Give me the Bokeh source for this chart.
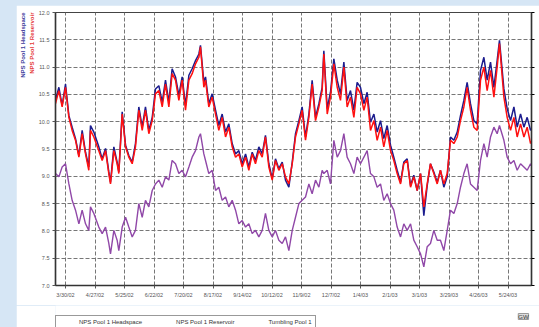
from bokeh.plotting import figure
from bokeh.models import Range1d, LinearAxis, FixedTicker, Legend, LegendItem, Title, Label
from bokeh.layouts import column
from bokeh.embed import file_html
from bokeh.resources import INLINE

# days since 3/30/02
days = [-9.5, -6.3, -3.2, 0.0, 3.2, 6.3, 9.5, 12.7, 15.8, 19.0, 22.1, 23.7, 26.9, 31.6, 34.8, 38.0,
        41.1, 42.7, 45.9, 49.0, 50.6, 53.8, 57.0, 60.1, 63.3, 66.4, 69.6, 72.8, 75.9, 79.1, 82.3, 85.4,
        88.6, 91.8, 94.9, 98.1, 101.2, 104.4, 107.6, 110.7, 113.9, 117.1, 120.2, 123.4, 126.6, 128.1,
        131.3, 132.9, 136.0, 139.2, 142.4, 145.5, 148.7, 151.9, 155.0, 158.2, 161.4, 164.5, 167.7, 170.9,
        174.0, 177.2, 180.3, 183.5, 186.7, 189.8, 193.0, 196.2, 199.3, 202.5, 205.7, 208.8, 212.0, 215.2,
        218.3, 221.5, 224.6, 227.8, 231.0, 234.1, 237.3, 240.5, 243.6, 245.2, 248.4, 251.5, 254.7, 257.9,
        261.0, 264.2, 267.3, 270.5, 273.7, 276.8, 280.0, 283.2, 286.3, 289.5, 292.7, 295.8, 299.0, 302.1,
        305.3, 308.5, 311.6, 314.8, 318.0, 321.1, 324.3, 327.5, 330.6, 333.8, 337.0, 340.1, 343.3, 346.4,
        349.6, 352.8, 355.9, 359.1, 362.3, 365.4, 368.6, 371.8, 374.9, 378.1, 381.2, 384.4, 387.6, 390.7,
        393.9, 397.1, 400.2, 403.4, 406.6, 409.7, 411.9, 416.1, 419.2, 422.4, 425.6, 428.7, 431.9, 435.1,
        438.2, 441.4, 444.5]

headspace = [10.39, 10.63, 10.30, 10.69, 10.11, 9.90, 9.69, 9.38, 9.84, 9.44, 9.17, 9.93, 9.81, 9.54, 9.32, 9.51,
             9.08, 8.89, 9.54, 9.26, 9.08, 10.18, 9.57, 9.38, 9.26, 9.60, 10.27, 9.90, 10.27, 9.84, 10.08, 10.60,
             10.66, 10.36, 10.76, 10.36, 10.97, 10.82, 10.48, 10.82, 10.30, 10.85, 10.97, 11.12, 11.24, 11.40,
             10.72, 10.82, 10.33, 10.51, 10.21, 9.93, 10.14, 9.81, 9.96, 9.60, 9.41, 9.47, 9.23, 9.41,
             9.17, 9.44, 9.29, 9.54, 9.41, 9.75, 9.23, 8.96, 9.32, 9.14, 9.26, 8.93, 8.80, 9.26,
             9.78, 10.02, 10.27, 9.72, 10.14, 10.76, 10.08, 10.33, 10.63, 11.30, 10.24, 10.54, 11.15, 10.76,
             10.51, 11.09, 10.39, 10.57, 10.21, 10.72, 10.63, 10.33, 10.54, 9.99, 10.14, 9.81, 10.02, 9.69,
             9.93, 9.57, 9.35, 9.11, 8.89, 9.26, 9.32, 8.83, 9.02, 8.74, 9.05, 8.28, 8.83, 9.23,
             9.08, 8.89, 9.11, 8.80, 8.99, 9.72, 9.66, 9.81, 10.11, 10.39, 10.72, 10.33, 10.02, 9.96,
             10.94, 11.18, 10.76, 11.09, 10.63, 11.12, 11.49, 10.60, 10.24, 10.02, 10.27, 9.90, 10.14, 9.90,
             10.08, 9.84, 9.93]

reservoir = [10.33, 10.57, 10.27, 10.63, 10.08, 9.84, 9.66, 9.35, 9.78, 9.41, 9.11, 9.84, 9.72, 9.47, 9.29, 9.47,
             9.05, 8.86, 9.47, 9.23, 9.05, 10.14, 9.54, 9.35, 9.23, 9.54, 10.21, 9.84, 10.21, 9.78, 10.02, 10.51,
             10.57, 10.27, 10.69, 10.27, 10.88, 10.76, 10.39, 10.76, 10.21, 10.76, 10.88, 11.06, 11.18, 11.37,
             10.63, 10.76, 10.27, 10.45, 10.14, 9.84, 10.08, 9.72, 9.90, 9.54, 9.35, 9.41, 9.17, 9.35,
             9.11, 9.41, 9.23, 9.47, 9.35, 9.72, 9.17, 8.93, 9.29, 9.11, 9.23, 8.99, 8.86, 9.23,
             9.72, 9.96, 10.21, 9.66, 10.08, 10.69, 10.02, 10.27, 10.57, 11.24, 10.14, 10.45, 11.06, 10.63,
             10.39, 11.00, 10.27, 10.45, 10.08, 10.63, 10.51, 10.21, 10.45, 9.84, 10.02, 9.66, 9.90, 9.54,
             9.84, 9.47, 9.29, 9.05, 8.86, 9.23, 9.29, 8.80, 8.99, 8.74, 9.05, 8.44, 8.86, 9.23,
             9.05, 8.86, 9.11, 8.86, 9.05, 9.66, 9.60, 9.72, 10.02, 10.27, 10.63, 10.21, 9.90, 9.84,
             10.76, 11.00, 10.57, 10.94, 10.45, 11.00, 11.43, 10.45, 10.08, 9.84, 10.08, 9.72, 9.96, 9.72,
             9.90, 9.60, 9.72]

tumbling = [9.05, 8.99, 9.17, 9.23, 8.86, 8.56, 8.38, 8.13, 8.38, 8.13, 8.01, 8.44, 8.32, 8.07, 7.95, 8.07,
            7.77, 7.58, 8.01, 7.83, 7.64, 8.07, 8.25, 8.07, 7.89, 8.01, 8.50, 8.25, 8.56, 8.44, 8.74, 8.86,
            8.93, 8.80, 8.99, 8.93, 9.29, 9.23, 9.05, 9.11, 8.99, 9.17, 9.35, 9.47, 9.72, 9.78,
            9.41, 9.29, 9.05, 9.11, 8.74, 8.80, 8.56, 8.62, 8.44, 8.56, 8.38, 8.13, 8.19, 8.07,
            8.13, 7.95, 8.01, 7.89, 8.01, 8.32, 8.01, 7.89, 8.01, 7.83, 7.77, 7.89, 7.64, 8.01,
            8.25, 8.50, 8.56, 8.62, 8.86, 8.68, 8.93, 8.80, 9.11, 9.05, 9.11, 8.86, 9.66, 9.35,
            9.47, 9.78, 9.35, 9.23, 9.05, 9.35, 9.23, 9.35, 9.47, 9.05, 8.99, 8.80, 8.86, 8.56,
            8.68, 8.50, 8.38, 8.07, 7.89, 8.13, 8.01, 8.13, 7.83, 7.71, 7.58, 7.34, 7.71, 7.77,
            8.01, 7.83, 7.83, 7.64, 8.01, 8.38, 8.32, 8.50, 8.80, 9.05, 9.23, 8.86, 8.80, 8.74,
            9.29, 9.60, 9.35, 9.72, 9.90, 9.78, 9.93, 9.66, 9.35, 9.23, 9.29, 9.11, 9.23, 9.17,
            9.11, 9.23, 9.11]

tick_days = [0, 28, 56, 84, 112, 140, 168, 196, 224, 252, 280, 308, 336, 364, 392, 420]
tick_labels = ["3/30/02", "4/27/02", "5/25/02", "6/22/02", "7/20/02", "8/17/02", "9/14/02", "10/12/02",
               "11/9/02", "12/7/02", "1/4/03", "2/1/03", "3/1/03", "3/29/03", "4/26/03", "5/24/03"]
y_ticks = [7.0, 7.5, 8.0, 8.5, 9.0, 9.5, 10.0, 10.5, 11.0, 11.5, 12.0]
right_ticks = [0, 10, 20, 30, 40, 50, 60, 70, 80, 90, 100]

series_names = ["NPS Pool 1 Headspace", "NPS Pool 1 Reservoir", "Tumbling Pool 1"]
colors = ["#1c1c8e", "#ff1010", "#9048a8"]

p = figure(width=535, height=300, output_backend="svg", toolbar_location=None,
           x_range=Range1d(-9.5, 442.3), y_range=Range1d(7.0, 12.0),
           min_border_left=39, min_border_right=20, min_border_top=7, min_border_bottom=20,
           background_fill_color="white", border_fill_color="white",
           outline_line_color="#444444", outline_line_width=1.2)
p.extra_y_ranges = {"right": Range1d(0, 100)}

r1 = p.line(days, headspace, line_color=colors[0], line_width=1.5)
r2 = p.line(days, reservoir, line_color=colors[1], line_width=1.5)
r3 = p.line(days, tumbling, line_color=colors[2], line_width=1.4)

p.xaxis.ticker = FixedTicker(ticks=tick_days)
p.xaxis.major_label_overrides = {d: l for d, l in zip(tick_days, tick_labels)}
p.yaxis.ticker = FixedTicker(ticks=y_ticks)
p.yaxis.major_label_overrides = {v: f"{v:.1f}" for v in y_ticks}

for ax in (p.xaxis[0], p.yaxis[0]):
    ax.major_label_text_font_size = "5.5px"
    ax.major_label_text_color = "#555555"
    ax.major_label_text_font = "Liberation Sans"
    ax.major_tick_out = 3
    ax.major_tick_in = 0
    ax.minor_tick_out = 0
    ax.minor_tick_in = 0
    ax.axis_line_color = "#333333"
    ax.axis_line_width = 1.5
    ax.major_tick_line_color = "#555555"
    ax.major_label_standoff = 3

rax = LinearAxis(y_range_name="right", ticker=FixedTicker(ticks=right_ticks))
rax.major_label_text_font_size = "5.5px"
rax.major_label_text_color = "#555555"
rax.major_label_text_font = "Liberation Sans"
rax.major_tick_out = 3
rax.minor_tick_out = 0
rax.major_tick_in = 0
rax.axis_line_color = "#333333"
rax.axis_line_width = 1.5
p.add_layout(rax, "right")

p.xgrid.ticker = FixedTicker(ticks=tick_days)
p.ygrid.ticker = FixedTicker(ticks=y_ticks)
for g in (p.xgrid[0], p.ygrid[0]):
    g.grid_line_color = "#777777"
    g.grid_line_dash = "4 2"
    g.grid_line_width = 1

p.add_layout(Title(text=series_names[1], text_color="#e53a3a", text_font_size="6px",
                   text_font="Liberation Sans", align="right", standoff=1), "left")
p.add_layout(Title(text=series_names[0], text_color="#3c3c9c", text_font_size="6px",
                   text_font="Liberation Sans", align="right", standoff=1), "left")

# legend strip under the chart
lg = figure(width=560, height=40, output_backend="svg", toolbar_location=None,
            x_range=Range1d(0, 1), y_range=Range1d(0, 1),
            x_axis_location=None, y_axis_location=None,
            min_border_left=39, min_border_right=0, min_border_top=0, min_border_bottom=0,
            background_fill_color="white", border_fill_color="white", outline_line_color=None)
lg.xgrid.visible = False
lg.ygrid.visible = False
s1 = lg.line([], [], line_color=colors[0], line_width=1.5)
s2 = lg.line([], [], line_color=colors[1], line_width=1.5)
s3 = lg.line([], [], line_color=colors[2], line_width=1.4)
legend = Legend(items=[LegendItem(label=series_names[0], renderers=[s1]),
                       LegendItem(label=series_names[1], renderers=[s2]),
                       LegendItem(label=series_names[2], renderers=[s3])],
                orientation="horizontal", location=(0, 16), margin=0,
                border_line_color="#333333", border_line_width=1,
                label_text_font_size="6px", label_text_font="Liberation Sans", label_text_color="#333333",
                glyph_width=16, glyph_height=6, spacing=14, padding=3, label_standoff=4,
                label_height=6)
lg.add_layout(legend)
lg.add_layout(Label(x=0.934, y=0.725, text="GW", text_font_size="6px", text_font="Liberation Sans",
                    text_align="center", text_baseline="middle", text_color="#333333",
                    background_fill_color="#dddddd", border_line_color="#999999"))

layout = column(p, lg, spacing=0)
html = file_html(layout, INLINE)
html = html.replace("<head>", "<head><style>html,body{background:#d6e6f5;overflow:hidden;}"
                    "body{padding:5px 0 0 16px !important;}</style>", 1)
open("out.html", "w").write(html)
